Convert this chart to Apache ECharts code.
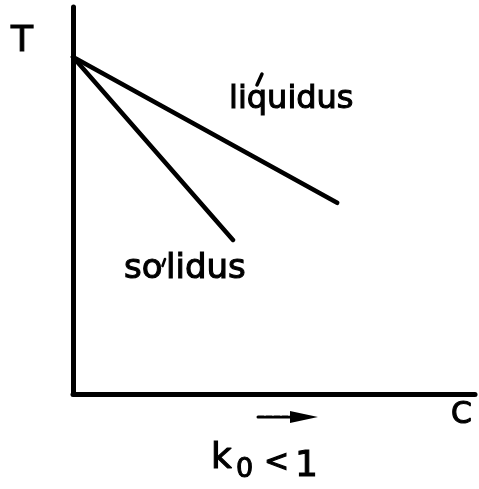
<!DOCTYPE html>
<html>
<head>
<meta charset="utf-8">
<script src="https://cdn.jsdelivr.net/npm/echarts@6/dist/echarts.min.js"></script>
<style>
  html, body { margin: 0; padding: 0; background: #fff; }
  #chart { width: 479px; height: 489px; }
</style>
</head>
<body>
<div id="chart"></div>
<script>
// Schematic phase diagram for a distribution coefficient k0 < 1:
// temperature T against concentration C, liquidus and solidus lines
// starting from the melting point of the pure component.
const liquidusC = [0, 65.7];
const liquidusT = [87.1, 49.4];
const solidusC = [0, 39.8];
const solidusT = [87.1, 39.8];

const toPairs = (xs, ys) => xs.map((x, i) => [x, ys[i]]);

const FONT = 'DejaVu Sans';
const INK = '#000';

const chart = echarts.init(document.getElementById('chart'), null, { renderer: 'canvas' });

// Hand-lettered labels: regular face with a thin outline for a medium stroke.
function txt(text, x, y, size) {
  return {
    type: 'text',
    x: x, y: y,
    style: {
      text: text,
      fill: INK,
      stroke: INK,
      lineWidth: 1.1,
      font: size + 'px "' + FONT + '"',
      verticalAlign: 'top',
      align: 'left'
    }
  };
}

function stroke(x1, y1, x2, y2, w, dash) {
  return {
    type: 'line',
    shape: { x1: x1, y1: y1, x2: x2, y2: y2 },
    style: { stroke: INK, lineWidth: w, lineDash: dash || null, lineCap: 'round' }
  };
}

chart.setOption({
  animation: false,
  backgroundColor: '#fff',
  grid: { left: 73, right: 4, top: 7, bottom: 95, containLabel: false },
  xAxis: {
    type: 'value', min: 0, max: 100,
    axisLine: { show: true, onZero: false, lineStyle: { color: INK, width: 5 } },
    axisTick: { show: false }, axisLabel: { show: false }, splitLine: { show: false }
  },
  yAxis: {
    type: 'value', min: 0, max: 100,
    axisLine: { show: true, onZero: false, lineStyle: { color: INK, width: 5 } },
    axisTick: { show: false }, axisLabel: { show: false }, splitLine: { show: false }
  },
  series: [
    {
      name: 'liquidus', type: 'line', data: toPairs(liquidusC, liquidusT),
      showSymbol: false, lineStyle: { color: INK, width: 4.5, cap: 'round' }
    },
    {
      name: 'solidus', type: 'line', data: toPairs(solidusC, solidusT),
      showSymbol: false, lineStyle: { color: INK, width: 4.5, cap: 'round' }
    }
  ],
  graphic: [
    txt('T', 11, 24, 36),
    txt('C', 451, 400, 30),
    txt('liquidus', 229, 84, 32),
    stroke(257, 85, 262, 74, 3.5),
    // "so" + "lidus", with the hand-drawn stroke set in the gap between them
    txt('so', 124, 252, 34),
    txt('lidus', 166, 252, 34),
    stroke(162.5, 266, 165, 259, 2.6),
    // direction arrow under the concentration axis
    stroke(258, 417, 296, 417, 3, [6, 2]),
    {
      type: 'polygon',
      shape: { points: [[290, 411], [318, 417], [290, 423]] },
      style: { fill: INK }
    },
    txt('k', 211, 441, 36),
    txt('0', 236, 456, 27),
    txt('<', 264, 448, 30),
    txt('1', 295, 449, 36)
  ]
});
</script>
</body>
</html>
